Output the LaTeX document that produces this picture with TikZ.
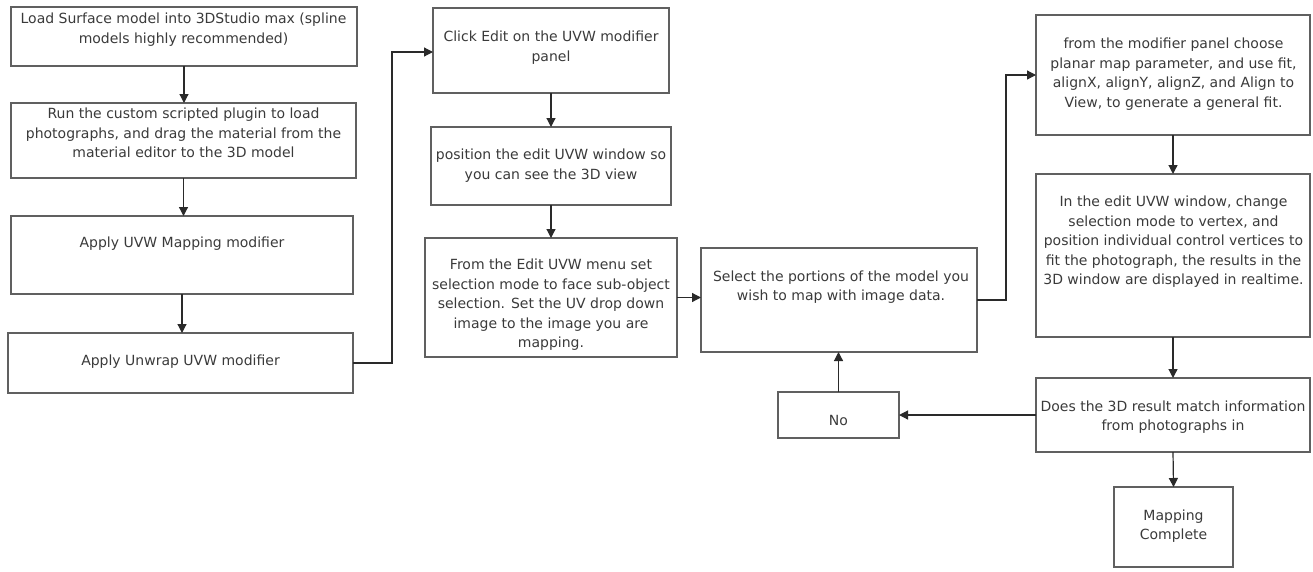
\documentclass[tikz,border=0pt]{standalone}
\usepackage{fontspec}
\setmainfont{DejaVu Sans}
\usetikzlibrary{arrows.meta}
\definecolor{boxline}{HTML}{606060}
\definecolor{txt}{HTML}{3A3A3A}
\definecolor{conn}{HTML}{2A2A2A}
\begin{document}
\begin{tikzpicture}[x=1pt,y=-1pt,
  box/.style={draw=boxline,line width=1.3pt,inner sep=0pt,outer sep=0pt},
  lbl/.style={text=txt,align=center,inner sep=0pt,font=\fontsize{14}{19.5}\selectfont},
  conline/.style={draw=conn,line width=1.2pt},
  arr/.style={conline,-{Triangle[length=9pt,width=9pt]}}]
\useasboundingbox (0,0) rectangle (1313,571);
% boxes
\node[box,minimum width=346pt,minimum height=59pt] (a1) at (184,36.5) {};
\node[box,minimum width=345pt,minimum height=75pt] (a2) at (183.5,140.5) {};
\node[box,minimum width=342pt,minimum height=78pt] (a3) at (182,255) {};
\node[box,minimum width=345pt,minimum height=60pt] (a4) at (180.5,363) {};
\node[box,minimum width=236pt,minimum height=85pt] (b1) at (551,50.5) {};
\node[box,minimum width=240pt,minimum height=78pt] (b2) at (551,166) {};
\node[box,minimum width=252pt,minimum height=119pt] (b3) at (551,297.5) {};
\node[box,minimum width=276pt,minimum height=104pt] (c1) at (839,300) {};
\node[box,minimum width=274pt,minimum height=120pt] (d1) at (1173,75) {};
\node[box,minimum width=274pt,minimum height=163pt] (d2) at (1173,255.5) {};
\node[box,minimum width=274pt,minimum height=74pt] (d3) at (1173,415) {};
\node[box,minimum width=119pt,minimum height=80pt] (d4) at (1173.5,527) {};
\node[box,minimum width=121pt,minimum height=46pt] (no) at (838.5,415) {};
% texts
\node[lbl] (ta1) at (183.5,29.5) {Load Surface model into 3DStudio max (spline\\models highly recommended)};
\node[lbl] (ta2) at (183.5,133) {Run the custom scripted plugin to load\\photographs, and drag the material from the\\material editor to the 3D model};
\node[lbl] (ta3) at (182,244) {Apply UVW Mapping modifier};
\node[lbl] (ta4) at (180.5,362) {Apply Unwrap UVW modifier};
\node[lbl] (tb1) at (551,47.5) {Click Edit on the UVW modifier\\panel};
\node[lbl] (tb2) at (551,165.5) {position the edit UVW window so\\you can see the 3D view};
\node[lbl] (tb3) at (551,305) {From the Edit UVW menu set\\selection mode to face sub-object\\selection. Set the UV drop down\\image to the image you are\\mapping.};
\node[lbl] (tc1) at (841,287) {Select the portions of the model you\\wish to map with image data.};
\node[lbl] (td1) at (1173.5,74) {from the modifier panel choose\\planar map parameter, and use fit,\\alignX, alignY, alignZ, and Align to\\View, to generate a general fit.};
\node[lbl] (td2) at (1173.5,242) {In the edit UVW window, change\\selection mode to vertex, and\\position individual control vertices to\\fit the photograph, the results in the\\3D window are displayed in realtime.};
\node[lbl] (td3) at (1173,417) {Does the 3D result match information\\from photographs in};
\node[lbl] (td4) at (1173.5,526) {Mapping\\Complete};
\node[lbl] (tno) at (838.5,420) {No};
% helper coordinates
\coordinate (k1) at (392,52);
\coordinate (k2) at (1006,75);
% connectors
\draw[arr] (a1.south) -- (a1.south |- a2.north);
\draw[arr] (a2.south) -- (a2.south |- a3.north);
\draw[arr] (a3.south) -- (a3.south |- a4.north);
\draw[arr] (a4.east) -- (a4.east -| k1) -- (k1) -- (k1 -| b1.west);
\draw[arr] (b1.south) -- (b2.north);
\draw[arr] (b2.south) -- (b3.north);
\draw[arr] (b3.east) -- (b3.east -| c1.west);
\draw[arr] (c1.east) -- (c1.east -| k2) -- (k2) -- (d1.west);
\draw[arr] (d1.south) -- (d2.north);
\draw[arr] (d2.south) -- (d3.north);
\draw[arr] (d3.south) -- (d4.north);
\draw[arr] (d3.west) -- (no.east);
\draw[arr] (no.north) -- (no.north |- c1.south);
\end{tikzpicture}
\end{document}
